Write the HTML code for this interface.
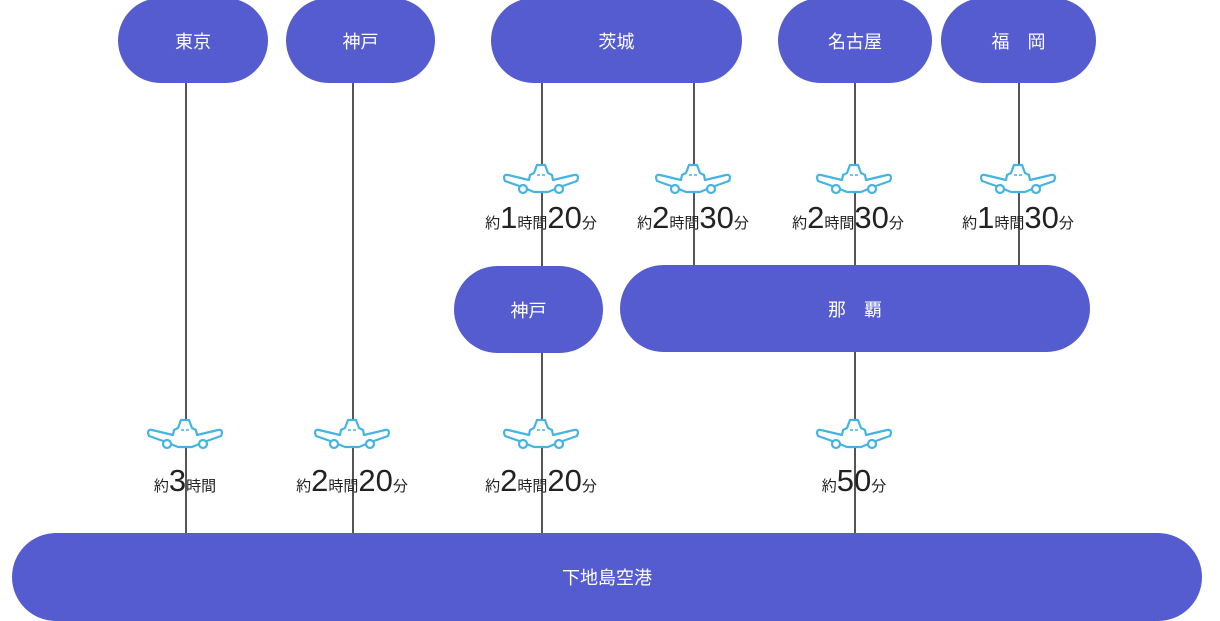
<!DOCTYPE html>
<html><head><meta charset="utf-8"><style>
body{margin:0;width:1220px;height:621px;background:#fff;position:relative;overflow:hidden;font-family:"Liberation Sans","Noto Sans CJK JP",sans-serif}
.n{position:absolute;background:#545ccf;color:#fff;display:flex;align-items:center;justify-content:center;font-size:18px;border-radius:44px}
.l{position:absolute;width:1.5px;background:#555}
.p{position:absolute;width:76px;height:32px}
.t{position:absolute;width:200px;text-align:center;color:#222;white-space:nowrap;line-height:30px}
.t s{text-decoration:none;font-size:15px}
.t b{font-weight:normal;font-size:31px;letter-spacing:0}
</style></head><body>
<div class="l" style="left:185px;top:80px;height:460px"></div>
<div class="l" style="left:352px;top:80px;height:460px"></div>
<div class="l" style="left:541px;top:80px;height:460px"></div>
<div class="l" style="left:693px;top:80px;height:190px"></div>
<div class="l" style="left:854px;top:80px;height:460px"></div>
<div class="l" style="left:1018px;top:80px;height:190px"></div>

<div class="n" style="left:118px;top:-2px;width:150px;height:85px">東京</div>
<div class="n" style="left:286px;top:-2px;width:149px;height:85px">神戸</div>
<div class="n" style="left:491px;top:-2px;width:251px;height:85px">茨城</div>
<div class="n" style="left:778px;top:-2px;width:154px;height:85px">名古屋</div>
<div class="n" style="left:941px;top:-2px;width:155px;height:85px">福　岡</div>
<div class="n" style="left:454px;top:266px;width:149px;height:87px">神戸</div>
<div class="n" style="left:620px;top:265px;width:470px;height:87px">那　覇</div>
<div class="n" style="left:12px;top:533px;width:1190px;height:88px">下地島空港</div>

<svg width="0" height="0" style="position:absolute"><defs><g id="pl" fill="#fff" stroke="#45b4e2" stroke-width="2.2" stroke-linejoin="round">
<path d="M31,10 L34,2 H42 L45,10 L49,12 L50,17 L71,12 Q75,11 75,15 L74,18 L57,24 L45,29 H31 L19,24 L2,18 L1,15 Q1,11 5,12 L26,17 L27,12 Z"/>
<circle cx="20" cy="26" r="4"/><circle cx="56" cy="26" r="4"/>
<path d="M34,12 H37 M39,12 H42" stroke-width="1.6"/></g></defs></svg>

<svg class="p" style="left:503px;top:163px"><use href="#pl"/></svg>
<svg class="p" style="left:655px;top:163px"><use href="#pl"/></svg>
<svg class="p" style="left:816px;top:163px"><use href="#pl"/></svg>
<svg class="p" style="left:980px;top:163px"><use href="#pl"/></svg>
<svg class="p" style="left:147px;top:418px"><use href="#pl"/></svg>
<svg class="p" style="left:314px;top:418px"><use href="#pl"/></svg>
<svg class="p" style="left:503px;top:418px"><use href="#pl"/></svg>
<svg class="p" style="left:816px;top:418px"><use href="#pl"/></svg>

<div class="t" style="left:441px;top:203px"><s>約</s><b>1</b><s>時間</s><b>20</b><s>分</s></div>
<div class="t" style="left:593px;top:203px"><s>約</s><b>2</b><s>時間</s><b>30</b><s>分</s></div>
<div class="t" style="left:748px;top:203px"><s>約</s><b>2</b><s>時間</s><b>30</b><s>分</s></div>
<div class="t" style="left:918px;top:203px"><s>約</s><b>1</b><s>時間</s><b>30</b><s>分</s></div>
<div class="t" style="left:85px;top:466px"><s>約</s><b>3</b><s>時間</s></div>
<div class="t" style="left:252px;top:466px"><s>約</s><b>2</b><s>時間</s><b>20</b><s>分</s></div>
<div class="t" style="left:441px;top:466px"><s>約</s><b>2</b><s>時間</s><b>20</b><s>分</s></div>
<div class="t" style="left:754px;top:466px"><s>約</s><b>50</b><s>分</s></div>
</body></html>
